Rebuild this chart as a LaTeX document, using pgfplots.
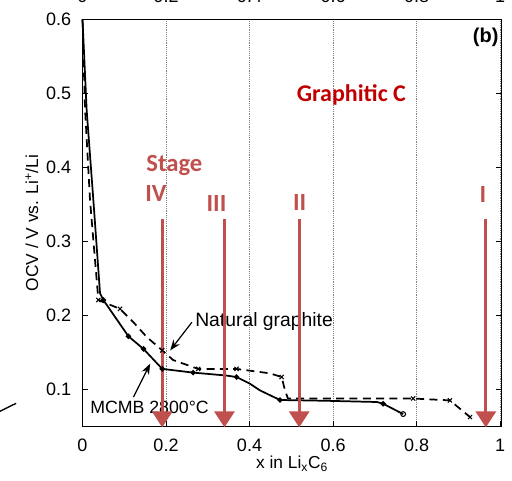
\documentclass[border=0pt]{standalone}
\usepackage{fontspec}
\setmainfont{Liberation Sans}
\newfontfamily\carlito{Carlito}
\usepackage{pgfplots}
\usepackage{pgfplotstable}
\pgfplotsset{compat=1.18}
\usetikzlibrary{arrows.meta}
\definecolor{stagered}{HTML}{C0504D}
\definecolor{darkred}{HTML}{C00000}

\pgfplotstableread{
x y
0.000 0.600
0.010 0.477
0.026 0.356
0.042 0.230
0.050 0.221
0.110 0.172
0.146 0.155
0.191 0.128
0.265 0.123
0.345 0.119
0.369 0.117
0.401 0.108
0.425 0.099
0.473 0.086
0.580 0.085
0.705 0.0833
0.720 0.081
0.768 0.067
}\mcmb

\pgfplotstableread{
x y
0.000 0.600
0.006 0.480
0.018 0.356
0.038 0.221
0.090 0.209
0.122 0.191
0.154 0.171
0.191 0.153
0.217 0.140
0.277 0.128
0.369 0.128
0.449 0.122
0.477 0.117
0.485 0.099
0.492 0.088
0.600 0.088
0.792 0.088
0.880 0.0855
0.928 0.063
}\natgraph

\tikzset{stagearrow/.style={stagered, line width=2.2pt, -{Triangle[width=15pt,length=12pt]}},
  stagelabel/.style={anchor=base, inner sep=0pt, text=stagered, font=\carlito\bfseries\fontsize{18.5}{20}\selectfont}}

\begin{document}
\begin{tikzpicture}
\begin{axis}[name=ax, at={(0,0)}, anchor=south west,
  scale only axis, width=314.4pt, height=305.5pt,
  xmin=0, xmax=1.004, ymin=0.05, ymax=0.6,
  xtick={0,0.2,0.4,0.6,0.8,1},
  xticklabels={0,0.2,0.4,0.6,0.8,1},
  ytick={0.1,0.2,0.3,0.4,0.5,0.6},
  yticklabels={0.1,0.2,0.3,0.4,0.5,0.6},
  tick align=inside, major tick length=4pt,
  xtick pos=bottom, ytick pos=both,
  xmajorgrids, grid style={densely dotted, gray, line width=0.6pt},
  clip=false,
  axis line style={line width=0.8pt},
  tick style={line width=0.6pt, black},
  tick label style={font=\fontsize{13.5}{15}\selectfont},
  /pgf/number format/assume math mode=true,
  xticklabel style={yshift=-6pt},
  yticklabel style={xshift=-5pt},
  xlabel={x in Li\textsubscript{x}C\textsubscript{6}},
  xlabel style={font=\fontsize{13}{15}\selectfont, at={(axis description cs:0.5,-0.1034)}, anchor=base},
  ylabel={OCV / V vs. Li\textsuperscript{+}/Li},
  ylabel style={font=\fontsize{13}{15}\selectfont, at={(axis description cs:-0.121,0.5)}, anchor=center},
]
\addplot[black, line width=1.3pt, mark=*, mark size=1.3pt, mark indices={5,6,7,8,9,11,14,17}] table[x=x,y=y] {\mcmb};
\addplot[black, line width=1.3pt, dash pattern=on 6pt off 4pt, mark=x, mark size=2.2pt, mark options={solid, line width=0.8pt}, mark indices={4,5,8,10,11,13,17,18,19}] table[x=x,y=y] {\natgraph};
\addplot[black, only marks, mark=o, mark size=1.8pt, mark options={line width=0.8pt}] coordinates {(0.768,0.067)};

% annotations
\draw[-{Stealth[length=8pt,width=6pt]}, line width=0.9pt] (axis cs:0.262,0.191) -- (axis cs:0.21,0.153);
\draw[-{Stealth[length=8pt,width=6pt]}, line width=0.9pt] (axis cs:0.122,0.090) -- (axis cs:0.162,0.135);
\node[anchor=base west, inner sep=0pt, font=\fontsize{14.5}{16}\selectfont] at (axis cs:0.2695,0.1846) {Natural graphite};
\node[anchor=base west, inner sep=0pt, font=\fontsize{13.3}{15}\selectfont] at (axis cs:0.018,0.0676) {MCMB 2800°C};
\node[anchor=base east, inner sep=0pt, font=\bfseries\fontsize{15}{17}\selectfont] at (axis cs:0.997,0.569) {(b)};

% red stage arrows
\draw[stagearrow] (axis cs:0.191,0.330) -- (axis cs:0.191,0.049);
\draw[stagearrow] (axis cs:0.340,0.330) -- (axis cs:0.340,0.049);
\draw[stagearrow] (axis cs:0.519,0.330) -- (axis cs:0.519,0.049);
\draw[stagearrow] (axis cs:0.966,0.330) -- (axis cs:0.966,0.049);
\node[anchor=base, inner sep=0pt, text=darkred, font=\carlito\bfseries\fontsize{18}{20}\selectfont] at (axis cs:0.644,0.4886) {Graphitic C};
\node[stagelabel] at (axis cs:0.220,0.394) {Stage};
\node[stagelabel] at (axis cs:0.176,0.3535) {IV};
\node[stagelabel] at (axis cs:0.321,0.340) {III};
\node[stagelabel] at (axis cs:0.520,0.342) {II};
\node[stagelabel] at (axis cs:0.959,0.353) {I};

% stray line from the cropped source figure
\draw[line width=1pt] (axis cs:-0.198,0.0707) -- (axis cs:-0.159,0.0815);
\end{axis}

% top axis carrying the (cropped) upper tick labels
\begin{axis}[at={(0,0)}, anchor=south west,
  scale only axis, width=314.4pt, height=305.5pt,
  xmin=0, xmax=1.004, ymin=0.05, ymax=0.6,
  hide y axis, axis x line*=top,
  axis line style={line width=0.8pt, -},
  xtick={0,0.2,0.4,0.6,0.8,1},
  xticklabels={0,0.2,0.4,0.6,0.8,1},
  major tick length=0pt,
  tick label style={font=\fontsize{13.5}{15}\selectfont},
  xticklabel style={yshift=9pt},
]
\end{axis}

\pgfresetboundingbox
\useasboundingbox ([shift={(-61.875pt,-40pt)}]ax.south west) rectangle ([shift={(322.125pt,320pt)}]ax.south west);
\end{tikzpicture}
\end{document}
